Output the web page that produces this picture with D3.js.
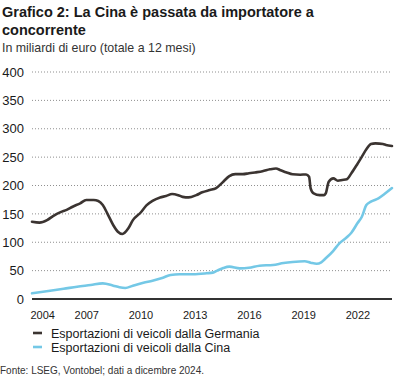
<!DOCTYPE html>
<html><head><meta charset="utf-8">
<script src="https://cdn.jsdelivr.net/npm/d3@7"></script>
<style>
body{margin:0;background:#fff;}
svg{display:block;font-family:"Liberation Sans",Arial,sans-serif;}
</style></head>
<body><svg id="c" width="401" height="379"></svg>
<script>
(function(){
const titleLines = ["Grafico 2: La Cina è passata da importatore a", "concorrente"];
const subtitle = "In miliardi di euro (totale a 12 mesi)";
const source = "Fonte: LSEG, Vontobel; dati a dicembre 2024.";
const seriesNames = ["Esportazioni di veicoli dalla Germania", "Esportazioni di veicoli dalla Cina"];
const yTicks = [0, 50, 100, 150, 200, 250, 300, 350, 400];
const xTickYears = [2004, 2007, 2010, 2013, 2016, 2019, 2022];

const germanyDates = ["2004-01","2004-06","2004-11","2005-03","2005-08","2005-12","2006-04","2006-09","2007-01","2007-06","2007-09","2007-12","2008-03","2008-07","2008-10","2009-01","2009-05","2009-08","2010-01","2010-05","2010-09","2011-02","2011-06","2011-10","2012-02","2012-05","2012-09","2013-02","2013-06","2013-11","2014-03","2014-08","2014-12","2015-04","2015-09","2016-01","2016-05","2016-10","2017-03","2017-07","2017-10","2018-02","2018-06","2018-11","2019-03","2019-05","2019-06","2019-08","2019-12","2020-03","2020-04","2020-06","2020-09","2020-12","2021-03","2021-06","2021-09","2022-01","2022-04","2022-07","2022-10","2023-01","2023-06","2023-08","2023-12"];
const germanyValues = [136,134.5,139,146,153,157,162.6,168.6,174.4,174.4,172.7,165.6,151,130,118.6,114.5,124.5,139,152,165,173,179,181.5,185,183,180,179,183,188,192,195,206.7,216.7,220,220,221.5,223,225,228.5,230,227,223,219.7,219,219.5,215.5,195,186,183,183,186,206.7,212.6,208.5,209.7,211,221.5,238,250.8,263.8,273,274.3,273,271.4,269.5];

const chinaDates = ["2004-01","2005-01","2005-10","2006-07","2007-04","2007-12","2008-07","2008-11","2009-03","2009-08","2010-03","2010-09","2011-04","2011-09","2012-03","2012-12","2013-09","2014-01","2014-04","2014-08","2014-12","2015-07","2016-01","2016-08","2017-05","2017-12","2018-06","2019-02","2019-06","2019-10","2020-01","2020-04","2020-09","2021-01","2021-06","2021-09","2022-01","2022-04","2022-07","2022-10","2023-03","2023-07","2023-12"];
const chinaValues = [10,14.6,18,21.7,24.7,27.6,23.5,20.6,19.4,23.5,28.8,32.3,37.6,42.3,43.5,43.5,45.3,46.5,50,54.6,57,54,55,58.7,60,63.4,65.2,66.4,64,62.2,64.7,71.7,85,98,108.7,116.8,133.4,145,165.6,171.5,177.4,185,195.5];

const colors = ["#3b3431", "#74c8e6"];

const parse = d3.timeParse("%Y-%m");
const svg = d3.select("#c");
const mLeft = 32, mRight = 392, mTop = 72, mBottom = 299;

const x = d3.scaleTime().domain([parse("2004-01"), parse("2023-12")]).range([mLeft, mRight]);
const y = d3.scaleLinear().domain([0, 400]).range([mBottom, mTop]);

svg.append("g").selectAll("text").data(titleLines).join("text")
  .attr("x", 2).attr("y", (d, i) => 17 + i * 18)
  .attr("font-size", 14.5).attr("font-weight", "bold").attr("fill", "#1a1a1a")
  .text(d => d);
svg.append("text").attr("x", 2).attr("y", 52).attr("font-size", 12.4).attr("fill", "#333").text(subtitle);

const yAxis = d3.axisLeft(y).tickValues(yTicks).tickSize(0).tickPadding(8);
const gy = svg.append("g").attr("transform", `translate(${mLeft},0)`).call(yAxis);
gy.select(".domain").remove();
gy.selectAll("text").attr("font-size", 13).attr("fill", "#1a1a1a").attr("font-family", "Liberation Sans, Arial, sans-serif");

svg.append("g").selectAll("line").data(yTicks.filter(d => d > 0)).join("line")
  .attr("x1", mLeft).attr("x2", mRight).attr("y1", d => y(d)).attr("y2", d => y(d))
  .attr("stroke", "#8f8f8f").attr("stroke-width", 1).attr("stroke-dasharray", "1,2");

const xAxis = d3.axisBottom(x).tickValues(xTickYears.map(d => new Date(d, 0, 1))).tickFormat(d3.timeFormat("%Y")).tickSize(0).tickPadding(12);
const gx = svg.append("g").attr("transform", `translate(0,${mBottom})`).call(xAxis);
gx.select(".domain").remove();
gx.selectAll("text").attr("font-size", 11).attr("fill", "#1a1a1a").attr("font-family", "Liberation Sans, Arial, sans-serif");
gx.selectAll("text").filter((d, i) => i === 0).attr("text-anchor", "start").attr("dx", -2);

const series = [
  germanyDates.map((d, i) => ({date: parse(d), value: germanyValues[i]})),
  chinaDates.map((d, i) => ({date: parse(d), value: chinaValues[i]}))
];
const line = d3.line().x(d => x(d.date)).y(d => y(d.value)).curve(d3.curveMonotoneX);
svg.append("g").selectAll("path").data(series).join("path")
  .attr("d", line).attr("fill", "none")
  .attr("stroke", (d, i) => colors[i]).attr("stroke-width", 2.6)
  .attr("stroke-linejoin", "round").attr("stroke-linecap", "round");

svg.append("line").attr("x1", mLeft).attr("x2", mRight).attr("y1", y(0)).attr("y2", y(0))
  .attr("stroke", "#333").attr("stroke-width", 2);

const lg = svg.append("g").selectAll("g").data(seriesNames).join("g")
  .attr("transform", (d, i) => `translate(33,${333 + i * 14})`);
lg.append("line").attr("x1", 0).attr("x2", 9).attr("y1", 0).attr("y2", 0)
  .attr("stroke", (d, i) => colors[i]).attr("stroke-width", 2.6);
lg.append("text").attr("x", 18).attr("y", 4.5).attr("font-size", 12.5).attr("fill", "#1a1a1a").text(d => d);

svg.append("text").attr("x", 0).attr("y", 374).attr("font-size", 10).attr("fill", "#333").text(source);
})();
</script></body></html>
